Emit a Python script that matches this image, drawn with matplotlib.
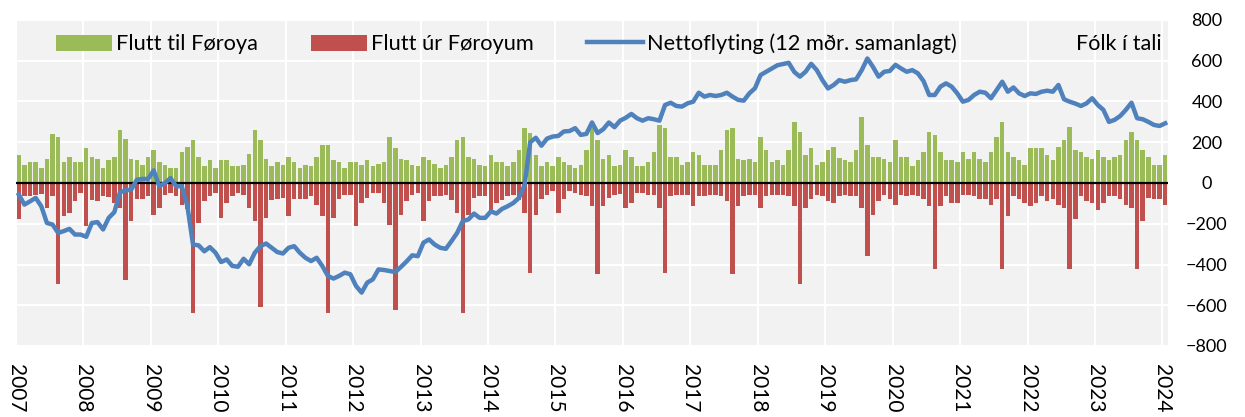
import matplotlib.pyplot as plt
import numpy as np

plt.rcParams['font.family'] = ['Lato', 'DejaVu Sans']

# monthly values, Jan 2007 .. Jan 2024
flutt_til = [
    139, 90, 101, 101, 73, 119, 240, 228, 101, 130, 101, 101,    # 2007
    171, 130, 119, 73, 111, 130, 258, 218, 120, 111, 90, 130,    # 2008
    160, 101, 90, 73, 73, 150, 179, 209, 130, 82, 111, 73,       # 2009
    111, 111, 82, 82, 90, 142, 258, 209, 120, 82, 101, 90,       # 2010
    130, 101, 73, 90, 82, 130, 187, 187, 111, 101, 73, 101,      # 2011
    101, 90, 111, 82, 93, 101, 228, 171, 120, 111, 90, 82,       # 2012
    130, 111, 95, 73, 90, 130, 209, 228, 130, 120, 90, 82,       # 2013
    139, 101, 101, 82, 101, 160, 269, 245, 139, 82, 101, 82,     # 2014
    130, 101, 90, 73, 90, 160, 269, 209, 120, 139, 82, 90,       # 2015
    160, 130, 82, 85, 101, 150, 285, 269, 130, 130, 90, 101,     # 2016
    150, 139, 90, 90, 90, 160, 258, 269, 120, 111, 120, 101,     # 2017
    228, 160, 101, 111, 90, 160, 297, 248, 139, 171, 90, 101,    # 2018
    160, 179, 122, 111, 101, 160, 326, 187, 130, 130, 120, 101,  # 2019
    209, 130, 130, 82, 111, 150, 248, 236, 150, 111, 111, 101,   # 2020
    150, 120, 150, 120, 101, 150, 228, 297, 150, 130, 111, 90,   # 2021
    171, 171, 171, 139, 111, 179, 212, 277, 160, 150, 130, 120,  # 2022
    160, 130, 111, 130, 139, 209, 248, 209, 160, 130, 90, 90,    # 2023
    139,                                                         # 2024
]

flutt_ur = [
    -176, -65, -65, -57, -52, -122, -65, -497, -163, -147, -90, -49,
    -212, -82, -90, -65, -70, -98, -122, -476, -187, -78, -78, -65,
    -155, -122, -57, -49, -65, -109, -130, -636, -196, -90, -65, -49,
    -171, -98, -65, -49, -57, -122, -187, -611, -171, -82, -78, -73,
    -163, -78, -78, -78, -65, -106, -163, -636, -171, -78, -57, -57,
    -212, -98, -73, -49, -49, -98, -204, -623, -155, -90, -57, -49,
    -187, -90, -65, -65, -57, -82, -147, -636, -155, -73, -65, -65,
    -147, -98, -82, -65, -57, -82, -147, -440, -155, -78, -57, -41,
    -147, -78, -41, -49, -57, -65, -114, -448, -114, -73, -57, -52,
    -122, -98, -49, -49, -57, -57, -122, -440, -65, -57, -57, -57,
    -114, -65, -65, -57, -57, -65, -90, -448, -114, -65, -57, -57,
    -122, -65, -57, -57, -57, -65, -114, -497, -122, -78, -57, -65,
    -90, -98, -65, -57, -65, -65, -122, -359, -155, -90, -57, -78,
    -106, -57, -65, -57, -65, -78, -114, -424, -114, -65, -98, -98,
    -57, -57, -65, -78, -78, -106, -78, -421, -163, -65, -78, -98,
    -114, -98, -65, -90, -78, -106, -122, -421, -176, -65, -90, -98,
    -134, -98, -65, -65, -78, -106, -122, -424, -187, -73, -78, -78,
    -106,
]

netto = [
    -57, -106, -90, -73, -114, -196, -204, -245, -236, -225, -253, -253,
    -264, -196, -192, -228, -171, -143, -46, -36, -33, 16, 20, 20,
    62, -16, 0, 24, -16, -16, -114, -302, -306, -335, -315, -342,
    -388, -375, -407, -411, -372, -399, -342, -310, -297, -318, -339, -346,
    -318, -310, -342, -367, -383, -367, -407, -456, -469, -456, -440, -448,
    -505, -538, -489, -473, -424, -427, -432, -437, -412, -385, -355, -359,
    -293, -277, -302, -318, -323, -285, -245, -187, -179, -150, -171, -171,
    -139, -150, -127, -114, -98, -73, -10, 200, 222, 183, 218, 228,
    231, 253, 255, 269, 236, 241, 297, 245, 264, 297, 274, 306,
    320, 339, 318, 306, 318, 313, 306, 383, 394, 378, 375, 391,
    399, 443, 424, 432, 427, 432, 443, 424, 408, 404, 440, 465,
    530, 546, 562, 578, 584, 590, 545, 522, 546, 585, 554, 505,
    464, 481, 505, 497, 505, 509, 554, 611, 570, 522, 546, 550,
    580, 562, 546, 554, 538, 500, 432, 432, 473, 489, 473, 440,
    399, 408, 432, 448, 443, 416, 456, 497, 448, 469, 440, 427,
    440, 437, 448, 453, 448, 481, 411, 399, 390, 378, 391, 416,
    383, 359, 300, 310, 329, 359, 394, 318, 313, 300, 285, 280,
    293,
]

years = list(range(2007, 2025))

x = np.arange(len(flutt_til))

fig = plt.figure(figsize=(12.45, 4.17), dpi=100)
ax = fig.add_axes([16/1245, 1 - 346/417, 1152/1245, 326/417])
ax.set_facecolor('#F2F2F2')

b1 = ax.bar(x, flutt_til, width=0.8, color='#9BBB59', label='Flutt til Føroya', zorder=2)
b2 = ax.bar(x, flutt_ur, width=0.8, color='#C0504D', label='Flutt úr Føroyum', zorder=2)
l1, = ax.plot(x, netto, color='#4F81BD', lw=3.2, label='Nettoflyting (12 mðr. samanlagt)', zorder=4)
ax.axhline(0, color='black', lw=1.6, zorder=3)

ax.set_xlim(-0.5, len(x) - 0.5)
ax.set_ylim(-800, 800)

ticks = [12*k - 0.5 for k in range(len(years))]
ax.set_xticks(ticks)
ax.set_xticklabels([str(y) for y in years], rotation=-90, fontsize=15, va='top', ha='center')
ax.set_yticks(range(-800, 801, 200))
ax.yaxis.tick_right()
ax.tick_params(axis='y', length=0, pad=28, labelsize=13)
for lab in ax.get_yticklabels():
    lab.set_horizontalalignment('center')
ax.tick_params(axis='x', length=0, pad=13)

ax.grid(True, color='white', lw=1.5, zorder=0)
ax.set_axisbelow(True)
for s in ax.spines.values():
    s.set_visible(False)

ax.legend(handles=[b1, b2, l1], loc='center left', bbox_to_anchor=(0.0347, 0.926), ncol=3,
          frameon=False, fontsize=15.7, handlelength=2.55, handleheight=0.8, handletextpad=0.2,
          columnspacing=2.45, borderpad=0, borderaxespad=0)
ax.text(0.9948, 0.926, 'Fólk í tali', transform=ax.transAxes, ha='right', va='center', fontsize=15.5)

fig.savefig('out.png', dpi=100)
